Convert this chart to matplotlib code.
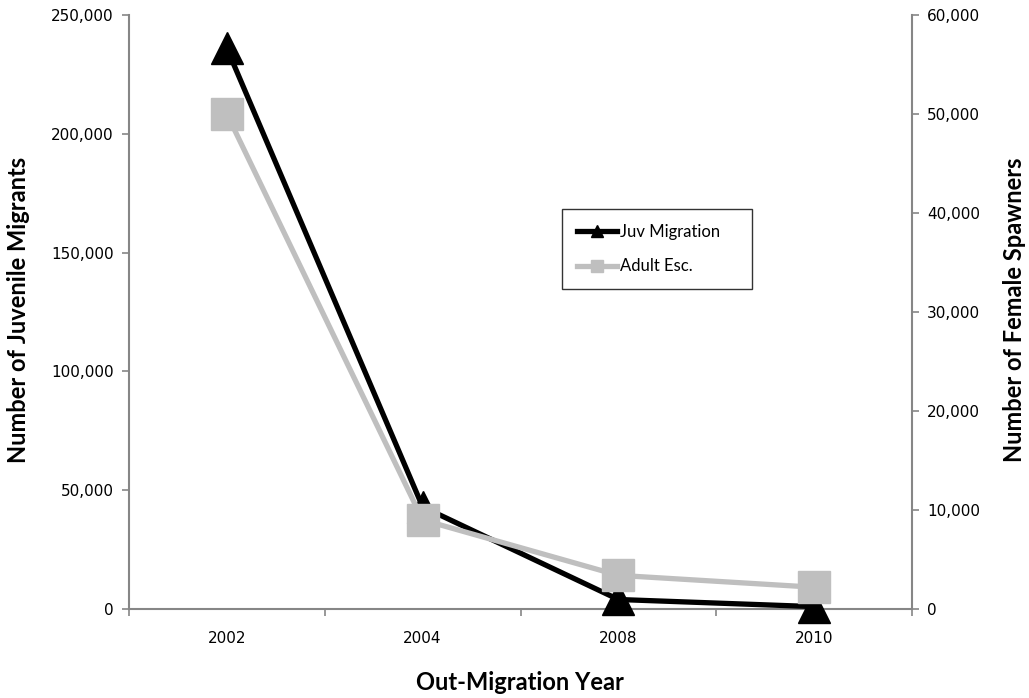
import matplotlib
matplotlib.use("Agg")
import matplotlib.pyplot as plt
from matplotlib.ticker import FuncFormatter, FixedLocator

years = ["2002", "2004", "2008", "2010"]
juv_migration = [236000, 43000, 4000, 1000]
adult_esc = [50000, 9000, 3400, 2200]

axis_color = "#868686"
gray = "#bfbfbf"

fig = plt.figure(figsize=(10.29, 6.98), dpi=100)
ax = fig.add_axes([129/1029, 1 - 609/698, (912-129)/1029, (609-15)/698])
ax2 = ax.twinx()

x = list(range(len(years)))
ax.plot(x, juv_migration, color="black", lw=3.8, marker="^", ms=23,
        label="Juv Migration", zorder=3, clip_on=False)
ax2.plot(x, adult_esc, color=gray, lw=3.8, marker="s", ms=23,
         label="Adult Esc.", zorder=3, clip_on=False)

ax.set_xlim(-0.5, len(years) - 0.5)
ax.set_ylim(0, 250000)
ax2.set_ylim(0, 60000)
ax.set_yticks(range(0, 250001, 50000))
ax2.set_yticks(range(0, 60001, 10000))
fmt = FuncFormatter(lambda v, p: f"{int(v):,}")
ax.yaxis.set_major_formatter(fmt)
ax2.yaxis.set_major_formatter(fmt)

ax.set_xticks(x)
ax.set_xticklabels(years)
ax.xaxis.set_minor_locator(FixedLocator([i - 0.5 for i in range(len(years) + 1)]))
ax.tick_params(axis="x", which="major", length=0, pad=16, labelsize=11)
ax.tick_params(axis="x", which="minor", length=5, color=axis_color, width=1.2)
ax.tick_params(axis="y", length=5, color=axis_color, width=1.2, labelsize=11, pad=6)
ax2.tick_params(axis="y", length=5, color=axis_color, width=1.2, labelsize=11, pad=6)

for a in (ax, ax2):
    a.spines["top"].set_visible(False)
    for s in ("left", "right", "bottom"):
        a.spines[s].set_color(axis_color)
        a.spines[s].set_linewidth(1.5)
ax.spines["right"].set_visible(False)
ax2.spines["left"].set_visible(False)
ax2.spines["bottom"].set_visible(False)

lab_font = dict(family=["Lato", "DejaVu Sans"], weight="bold", size=17)
fig.text(19/1029, 1 - 310/698, "Number of Juvenile Migrants", rotation=90,
         ha="center", va="center", **lab_font)
fig.text(1015/1029, 1 - 310/698, "Number of Female Spawners", rotation=90,
         ha="center", va="center", **lab_font)
fig.text(520/1029, 1 - 683/698, "Out-Migration Year", ha="center", va="center",
         **lab_font)

h1, l1 = ax.get_legend_handles_labels()
h2, l2 = ax2.get_legend_handles_labels()
bx0 = (562 - 129) / 783
bw = (752 - 562) / 783
btop = 1 - (209 - 15) / 594
leg = ax2.legend(h1 + h2, l1 + l2, loc="upper left", mode="expand",
                 bbox_to_anchor=(bx0, btop - 0.2, bw, 0.2),
                 frameon=True, fancybox=False, edgecolor="black",
                 prop=dict(family=["Lato", "DejaVu Sans"], size=12),
                 handlelength=2.4, markerscale=0.38, borderpad=0.9,
                 labelspacing=1.1, handletextpad=0.2, borderaxespad=0)
leg.get_frame().set_linewidth(1.0)

fig.savefig("out.png", dpi=100)
